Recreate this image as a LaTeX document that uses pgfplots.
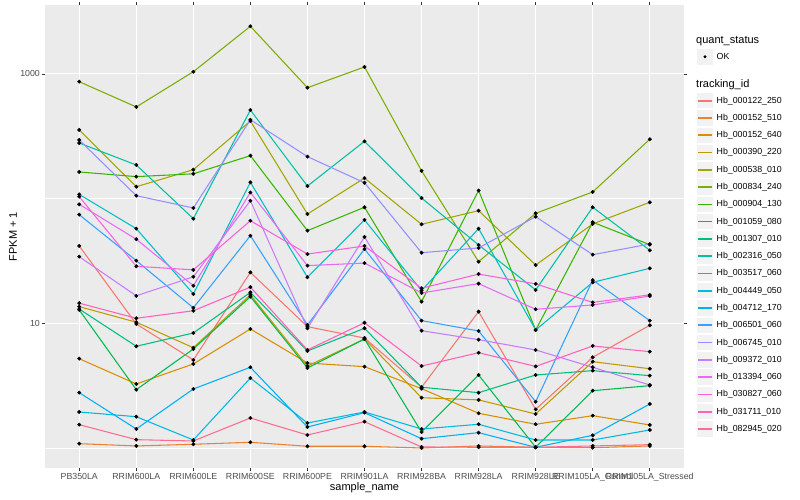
\documentclass[border=0pt]{standalone}
\usepackage{fontspec}
\setmainfont{Liberation Sans}
\usepackage{pgfplots}
\usepackage{pgfplotstable}
\pgfplotsset{compat=1.18}

% ggplot hue palette, 20 levels
\definecolor{c1}{HTML}{F8766D}
\definecolor{c2}{HTML}{EA8331}
\definecolor{c3}{HTML}{D89000}
\definecolor{c4}{HTML}{C09B00}
\definecolor{c5}{HTML}{A3A500}
\definecolor{c6}{HTML}{7CAE00}
\definecolor{c7}{HTML}{39B600}
\definecolor{c8}{HTML}{00BB4E}
\definecolor{c9}{HTML}{00BF7D}
\definecolor{c10}{HTML}{00C1A3}
\definecolor{c11}{HTML}{00BFC4}
\definecolor{c12}{HTML}{00BAE0}
\definecolor{c13}{HTML}{00B0F6}
\definecolor{c14}{HTML}{35A2FF}
\definecolor{c15}{HTML}{9590FF}
\definecolor{c16}{HTML}{C77CFF}
\definecolor{c17}{HTML}{E76BF3}
\definecolor{c18}{HTML}{FA62DB}
\definecolor{c19}{HTML}{FF62BC}
\definecolor{c20}{HTML}{FF6C91}
\definecolor{panel}{HTML}{EBEBEB}
\definecolor{keybg}{HTML}{F2F2F2}
\definecolor{gray30}{HTML}{4D4D4D}
\definecolor{gray20}{HTML}{333333}

% FPKM + 1, one row per sample, one column per tracking_id
\pgfplotstableread{
x  s1    s2    s3    s4    s5    s6    s7    s8    s9    s10  s11   s12   s13   s14   s15   s16   s17   s18   s19   s20
0  41.7  1.083 5.2   13.6  355   866   163.5 12.8  13.0  279  108   1.944 2.777 74.3  295   34.2  90    103.6 14.5  1.538
1  9.87  1.038 3.26  10.2  124.5 543   150   2.934 6.54  186  57.4  1.782 1.42  31.8  105.5 16.6  47.2  28.65 10.97 1.166
2  5.08  1.071 4.72  6.37  170.5 1041  158   6.22  8.36  69   17.2  1.159 2.972 13.3  84.1  23.6  20.0  26.8  12.6  1.138
3  25.6  1.111 9.0   16.9  419   2408  221   16.35 17.7  513  135   3.64  4.438 50.4  429   96.2  112   66.5  19.5  1.74
4  9.39  1.032 4.80  4.54  75.2  775   55.3  4.38  6.0   126  23.4  1.586 1.474 9.69  217   9.12  29    35.9  6.11  1.271
5  7.62  1.032 4.49  7.48  146   1136  85.2  7.48  9.12  288  67.4  1.944 1.919 39.4  134   49.2  30.4  41.7  10.1  1.625
6  3.07  1.0   2.99  2.53  62.2  167   14.9  1.343 3.07  101  18.3  1.42  1.187 10.5  36.8  8.72  17.5  19.1  4.54  1.019
7  12.4  1.038 1.898 2.43  80    31.2  116   3.85  2.777 42.5 57.4  1.549 1.327 8.68  40.2  7.39  20.8  24.8  5.81  1.013
8  2.04  1.013 1.549 1.873 29.3  76.2  8.84  1.013 3.85  18.5 8.84  1.159 1.013 2.35  71.6  6.11  12.95 20.7  4.51  1.013
9  5.34  1.005 1.816 4.92  62.6  113   64.6  2.88  4.17  85.2 21.3  1.159 1.264 22.2  35.5  4.44  14.02 14.7  6.58  1.038
10 9.64  1.038 1.53  4.32  93.4  299   42.7  3.16  3.80  38.5 27.6  1.394 2.253 10.5  43.2  3.2   16.55 16.9  5.92  1.063
}\fpkm

\begin{document}
\begin{tikzpicture}
\fill[white] (0,0) rectangle (800pt,500pt);

\begin{axis}[
  at={(45pt,32pt)}, anchor=south west,
  scale only axis, width=639pt, height=463pt,
  xmin=-0.6, xmax=10.6,
  ymode=log, ymin=0.691, ymax=3568,
  axis background/.style={fill=panel},
  axis line style={draw=none},
  tick align=outside,
  major tick length=2.75pt,
  minor tick length=0pt,
  tick style={gray20, line width=0.6pt},
  xtick={0,...,10},
  xticklabels={PB350LA,RRIM600LA,RRIM600LE,RRIM600SE,RRIM600PE,RRIM901LA,RRIM928BA,RRIM928LA,RRIM928LE,RRIM105LA\_Control,RRIM105LA\_Stressed},
  ytick={10,1000}, yticklabels={10,1000},
  minor ytick={1,100},
  grid=both,
  major grid style={white, line width=1.07pt},
  minor grid style={white, line width=0.53pt},
  ticklabel style={font=\fontsize{8.8}{10}\selectfont, text=gray30, inner sep=0pt},
  xticklabel style={yshift=-2.6pt},
  yticklabel style={xshift=-2.2pt},
  every axis x label/.style={at={(axis description cs:0.5,-0.043)}, anchor=center},
  every axis y label/.style={at={(axis description cs:-0.0501,0.5)}, anchor=center, rotate=90},
  label style={font=\fontsize{11}{13}\selectfont},
  xlabel={sample\_name},
  ylabel={FPKM + 1},
  legend style={at={(axis description cs:1.0208,0.812)}, anchor=north west,
    draw=none, fill=none, inner sep=0pt, outer sep=0pt, row sep=0pt,
    font=\fontsize{8.8}{10}\selectfont,
    nodes={inner sep=0pt, outer sep=0pt},
    /tikz/every odd column/.style={column sep=4pt}},
  legend cell align=left,
  legend image code/.code={
    \path[fill=keybg, draw=none] (0pt,-7.7pt) rectangle (15.4pt,7.7pt);
    \path[draw=none, fill=none] (0pt,-8.64pt) rectangle (15.4pt,8.64pt);
    \draw[#1, mark=none, line width=1.7pt] (1pt,0pt) -- (14.4pt,0pt);
  },
]
\pgfplotsinvokeforeach{1,...,20}{
  \addplot[c#1, line width=1.07pt] table[x=x, y=s#1] {\fpkm};
}
\legend{Hb\_000122\_250, Hb\_000152\_510, Hb\_000152\_640, Hb\_000390\_220, Hb\_000538\_010,
  Hb\_000834\_240, Hb\_000904\_130, Hb\_001059\_080, Hb\_001307\_010, Hb\_002316\_050,
  Hb\_003517\_060, Hb\_004449\_050, Hb\_004712\_170, Hb\_006501\_060, Hb\_006745\_010,
  Hb\_009372\_010, Hb\_013394\_060, Hb\_030827\_060, Hb\_031711\_010, Hb\_082945\_020}
\pgfplotsinvokeforeach{1,...,20}{
  \addplot[only marks, mark=*, mark size=1.75pt, black, forget plot] table[x=x, y=s#1] {\fpkm};
}
\end{axis}

% quant_status legend
\begin{axis}[
  at={(45pt,32pt)}, anchor=south west,
  scale only axis, width=639pt, height=463pt,
  hide axis, xmin=0, xmax=1, ymin=0, ymax=1,
  legend style={at={(axis description cs:1.0208,0.9067)}, anchor=north west,
    draw=none, fill=none, inner sep=0pt, outer sep=0pt,
    font=\fontsize{8.8}{10}\selectfont,
    nodes={inner sep=0pt, outer sep=0pt},
    /tikz/every odd column/.style={column sep=4pt}},
  legend cell align=left,
  legend image code/.code={
    \path[fill=keybg, draw=none] (0pt,-7.7pt) rectangle (15.4pt,7.7pt);
    \path[draw=none, fill=none] (0pt,-8.64pt) rectangle (15.4pt,8.64pt);
    \path[fill=black, draw=none] (7.7pt,0pt) circle (1.6pt);
  },
]
\addlegendimage{black}
\addlegendentry{OK}
\end{axis}

\node[anchor=west, inner sep=0pt, font=\fontsize{11}{13}\selectfont] at (696pt,459pt) {quant\_status};
\node[anchor=west, inner sep=0pt, font=\fontsize{11}{13}\selectfont] at (696pt,415pt) {tracking\_id};

\pgfresetboundingbox
\path (0,0) rectangle (800pt,500pt);
\end{tikzpicture}
\end{document}
